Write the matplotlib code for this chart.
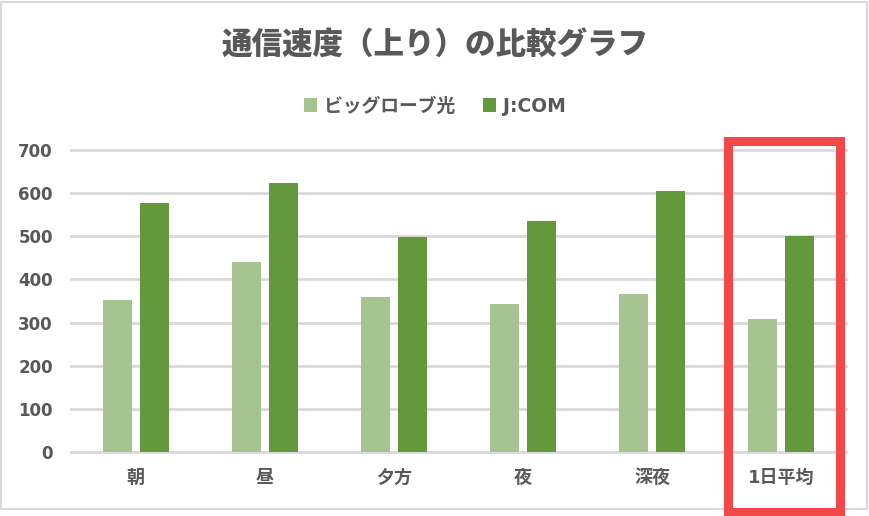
import matplotlib
matplotlib.use('Agg')
import matplotlib.pyplot as plt
from matplotlib.patches import Rectangle
import numpy as np

plt.rcParams['font.family'] = ['Noto Sans CJK JP', 'DejaVu Sans']
MIXED = ['DejaVu Sans', 'Noto Sans CJK JP']

# データ
categories = ['朝', '昼', '夕方', '夜', '深夜', '1日平均']
biglobe = [352, 440, 359, 343, 366, 308]
jcom = [577, 624, 498, 535, 605, 501]
series_names = ['ビッグローブ光', 'J:COM']
yticks = [0, 100, 200, 300, 400, 500, 600, 700]

LIGHT = '#A5C490'
DARK = '#64983C'
TEXT = '#595959'
GRID = '#D9D9D9'

W, H = 870, 516
fig = plt.figure(figsize=(W / 100, H / 100), dpi=100)
ax = fig.add_axes([71 / W, 1 - 452 / H, 775 / W, 302 / H])

x = np.arange(len(categories))
width = 0.224
off = 0.143
ax.bar(x - off, biglobe, width, color=LIGHT, label=series_names[0], zorder=3)
ax.bar(x + off, jcom, width, color=DARK, label=series_names[1], zorder=3)

ax.set_xlim(-0.5, len(categories) - 0.5)
ax.set_ylim(0, 700)
ax.set_yticks(yticks)
ax.set_yticklabels([str(v) for v in yticks], family='DejaVu Sans',
                   fontweight='bold', fontsize=12, color=TEXT)
ax.set_xticks(x)
ax.set_xticklabels(categories, family=MIXED, fontweight='bold',
                   fontsize=13, color=TEXT)
ax.tick_params(axis='both', length=0)
ax.tick_params(axis='y', pad=13)
ax.tick_params(axis='x', pad=12)

for s in ax.spines.values():
    s.set_visible(False)
ax.yaxis.grid(True, color=GRID, lw=2, zorder=0)
for gl in ax.get_ygridlines():
    gl.set_clip_on(False)
ax.set_axisbelow(True)

# タイトルと凡例
fig.text(0.5, 1 - 45 / H, '通信速度（上り）の比較グラフ', ha='center', va='center',
         fontsize=22, fontweight='black', color=TEXT)
fig.legend(loc='center', bbox_to_anchor=(0.5, 1 - 106 / H), ncol=2,
           frameon=False, handlelength=0.7, handleheight=0.7,
           handletextpad=0.35, columnspacing=1.5,
           prop={'family': MIXED, 'weight': 'bold', 'size': 13.5},
           labelcolor=TEXT)

# 枠線
fig.add_artist(Rectangle((1.5 / W, 1 - 509 / H), 866 / W, 507 / H,
                         transform=fig.transFigure, fill=False,
                         ec=GRID, lw=1.5))
# 強調枠
fig.add_artist(Rectangle((728.5 / W, 1 - 511.5 / H), 112 / W, 371 / H,
                         transform=fig.transFigure, fill=False,
                         ec='#F24848', lw=6.5, clip_on=False))

fig.savefig('out.png', dpi=100)
